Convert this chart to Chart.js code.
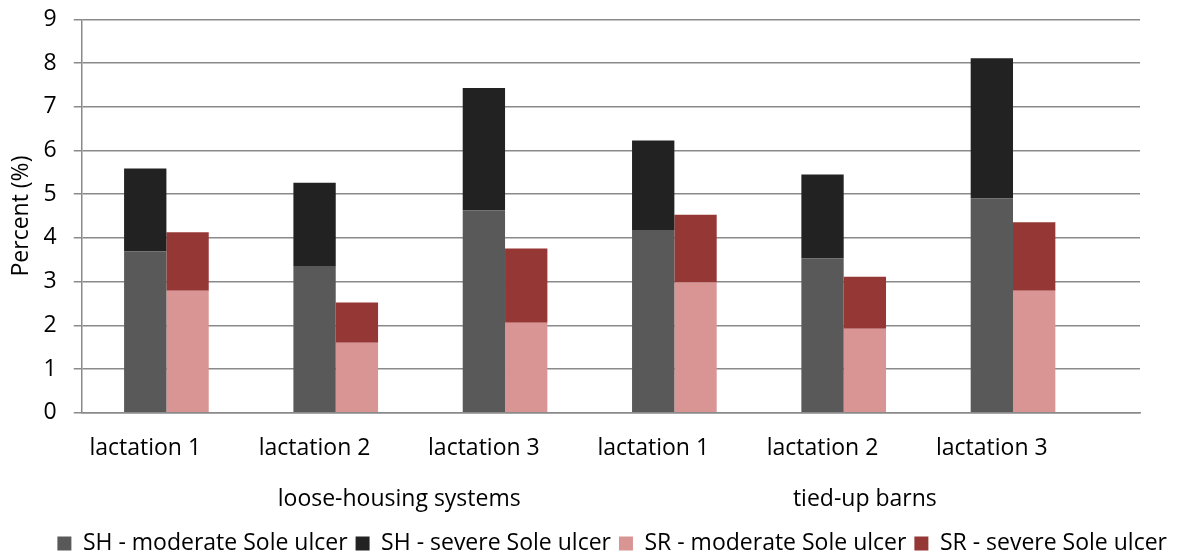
<!DOCTYPE html>
<html>
<head>
<meta charset="utf-8">
<script src="https://cdn.jsdelivr.net/npm/chart.js@4/dist/chart.umd.min.js"></script>
<style>
  html, body { margin: 0; padding: 0; background: #fff; }
  #wrap { width: 1180px; height: 554px; }
</style>
</head>
<body>
<div id="wrap"><canvas id="c" width="1180" height="554"></canvas></div>
<script>
// ---- data ----
const categories = ['lactation 1', 'lactation 2', 'lactation 3', 'lactation 1', 'lactation 2', 'lactation 3'];
const groups = ['loose-housing systems', 'tied-up barns'];
const seriesNames = ['SH - moderate Sole ulcer', 'SH - severe Sole ulcer', 'SR - moderate Sole ulcer', 'SR - severe Sole ulcer'];
const shModerate = [3.69, 3.34, 4.63, 4.18, 3.53, 4.90];
const shSevere   = [1.90, 1.92, 2.80, 2.05, 1.92, 3.21];
const srModerate = [2.79, 1.60, 2.06, 2.98, 1.92, 2.79];
const srSevere   = [1.34, 0.92, 1.70, 1.55, 1.19, 1.57];
const yTicks = [0, 1, 2, 3, 4, 5, 6, 7, 8, 9];

// ---- layout in "slot" units (Excel clustered-stacked arrangement) ----
const SLOTS_PER_CAT = 4;
const TOTAL_SLOTS = categories.length * SLOTS_PER_CAT + 1;
const barPos = i => i * SLOTS_PER_CAT + 2;        // centre of SH+SR pair
const labelPos = i => i * SLOTS_PER_CAT + 1.5;    // category label position
const groupPos = [7.5, 18.5];                     // group label positions

const toPts = arr => arr.map((v, i) => ({ x: barPos(i), y: v }));

const FONT = "'Open Sans', 'DejaVu Sans', sans-serif";
const FS = 23;
const GRID = '#8a8a8a';

new Chart(document.getElementById('c'), {
  type: 'bar',
  data: {
    datasets: [
      { label: seriesNames[0], data: toPts(shModerate), backgroundColor: '#595959', stack: 'SH' },
      { label: seriesNames[1], data: toPts(shSevere),   backgroundColor: '#222222', stack: 'SH' },
      { label: seriesNames[2], data: toPts(srModerate), backgroundColor: '#d99594', stack: 'SR' },
      { label: seriesNames[3], data: toPts(srSevere),   backgroundColor: '#953735', stack: 'SR' }
    ]
  },
  options: {
    responsive: false,
    animation: false,
    categoryPercentage: 0.5,
    barPercentage: 1.0,
    layout: { padding: { top: 0, right: 5, left: 8, bottom: -11 } },
    plugins: {
      legend: {
        position: 'bottom',
        align: 'end',
        title: { display: true, text: '', font: { size: 1, lineHeight: 1 }, padding: { top: 8, bottom: 0 } },
        labels: {
          color: '#000',
          font: { family: FONT, size: FS },
          boxWidth: 14,
          boxHeight: 14,
          padding: 8
        }
      },
      tooltip: { enabled: false }
    },
    scales: {
      x: {
        type: 'linear',
        min: 0,
        max: TOTAL_SLOTS,
        offset: false,
        weight: 0,
        grid: { display: false, drawTicks: false },
        border: { display: true, color: GRID, width: 1.5 },
        afterBuildTicks: axis => { axis.ticks = categories.map((c, i) => ({ value: labelPos(i) })); },
        ticks: {
          autoSkip: false,
          maxRotation: 0,
          padding: 22,
          color: '#000',
          font: { family: FONT, size: FS },
          callback: (v, i) => categories[i]
        }
      },
      x2: {
        type: 'linear',
        position: 'bottom',
        min: 0,
        max: TOTAL_SLOTS,
        offset: false,
        weight: 1,
        grid: { display: false, drawTicks: false },
        border: { display: false },
        afterBuildTicks: axis => { axis.ticks = groups.map((g, i) => ({ value: groupPos[i] })); },
        ticks: {
          autoSkip: false,
          maxRotation: 0,
          padding: 1.5,
          color: '#000',
          font: { family: FONT, size: FS },
          callback: (v, i) => groups[i]
        }
      },
      y: {
        stacked: true,
        min: 0,
        max: 9,
        afterBuildTicks: axis => { axis.ticks = yTicks.map(v => ({ value: v })); },
        grid: { color: GRID, lineWidth: 1.5, tickLength: 8, drawTicks: true },
        border: { display: true, color: GRID, width: 1.5 },
        ticks: {
          padding: 17,
          color: '#000',
          font: { family: FONT, size: FS, lineHeight: 0.2 }
        },
        title: {
          display: true,
          text: 'Percent (%)',
          color: '#000',
          font: { family: FONT, size: FS },
          padding: { top: 0, bottom: -9 }
        }
      },
      // empty right-hand spacer so the plot ends where the reference does
      ySpacer: {
        type: 'linear',
        position: 'right',
        display: true,
        grid: { display: false, drawTicks: false },
        border: { display: false },
        ticks: { display: false },
        afterFit: s => { s.width = 35; }
      }
    }
  }
});
</script>
</body>
</html>
